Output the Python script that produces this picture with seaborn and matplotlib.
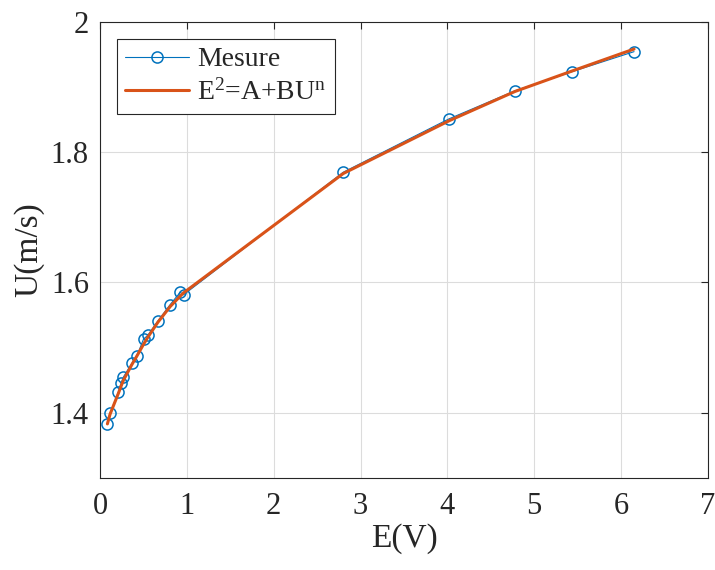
import numpy as np
import pandas as pd
import matplotlib
matplotlib.use("Agg")
import matplotlib.pyplot as plt
import matplotlib.ticker as mticker
import seaborn as sns

# measured points: E (V) and U (m/s)
E_meas = [0.084, 0.115, 0.211, 0.242, 0.269, 0.366, 0.423, 0.500, 0.550,
          0.666, 0.807, 0.923, 0.961, 2.80, 4.02, 4.78, 5.43, 6.15]
U_meas = [1.383, 1.399, 1.432, 1.446, 1.455, 1.476, 1.487, 1.513, 1.519,
          1.541, 1.566, 1.585, 1.581, 1.769, 1.851, 1.894, 1.923, 1.954]
# fitted curve E^2 = A + B U^n, read at the same E values
U_fit = [1.383, 1.398, 1.430, 1.441, 1.450, 1.474, 1.487, 1.505, 1.516,
         1.539, 1.563, 1.579, 1.584, 1.767, 1.848, 1.893, 1.924, 1.958]

x_ticks = [0, 1, 2, 3, 4, 5, 6, 7]
y_ticks = [1.4, 1.6, 1.8, 2.0]

sns.set_theme(style="whitegrid")
plt.rcParams["font.family"] = ["Liberation Serif", "DejaVu Serif"]
plt.rcParams["mathtext.fontset"] = "custom"
plt.rcParams["mathtext.rm"] = "Liberation Serif"
plt.rcParams["mathtext.default"] = "regular"

AX_COL = "#262626"

fig = plt.figure(figsize=(7.15, 5.70), dpi=100)
ax = fig.add_axes([0.140, 0.1614, 0.850, 0.8006])
ax.set_facecolor("white")

df = pd.DataFrame({"E": E_meas, "U": U_meas, "Ufit": U_fit})

sns.lineplot(data=df, x="E", y="U", ax=ax, estimator=None, sort=False,
             color="#0072BD", linewidth=0.8, marker="o", markersize=8,
             markerfacecolor="none", markeredgecolor="#0072BD",
             markeredgewidth=1.1, label="Mesure")
sns.lineplot(data=df, x="E", y="Ufit", ax=ax, estimator=None, sort=False,
             color="#D95319", linewidth=2.2, label="E$^{2}$=A+BU$^{n}$")

ax.set_xlim(0, 7)
ax.set_ylim(1.3, 2.0)
ax.set_xticks(x_ticks)
ax.set_yticks(y_ticks)
ax.yaxis.set_major_formatter(mticker.FormatStrFormatter("%g"))
ax.tick_params(direction="in", length=5, width=0.8, colors=AX_COL,
               labelsize=22, top=True, right=True, pad=8)
ax.tick_params(axis="x", pad=10)

ax.grid(True, color="#dcdcdc", linewidth=0.8)
for sp in ax.spines.values():
    sp.set_visible(True)
    sp.set_color(AX_COL)
    sp.set_linewidth(0.8)

ax.set_xlabel("E(V)", fontsize=24, color=AX_COL, labelpad=2)
ax.set_ylabel("U(m/s)", fontsize=24, color=AX_COL, labelpad=5)

leg = ax.legend(loc="upper left", bbox_to_anchor=(0.027, 0.963), fontsize=20,
                fancybox=False, framealpha=1, edgecolor=AX_COL,
                handlelength=2.3, handletextpad=0.3, borderpad=0.3,
                labelspacing=0.25, borderaxespad=0)
leg.get_frame().set_linewidth(0.8)

fig.savefig("out.png", dpi=100)
